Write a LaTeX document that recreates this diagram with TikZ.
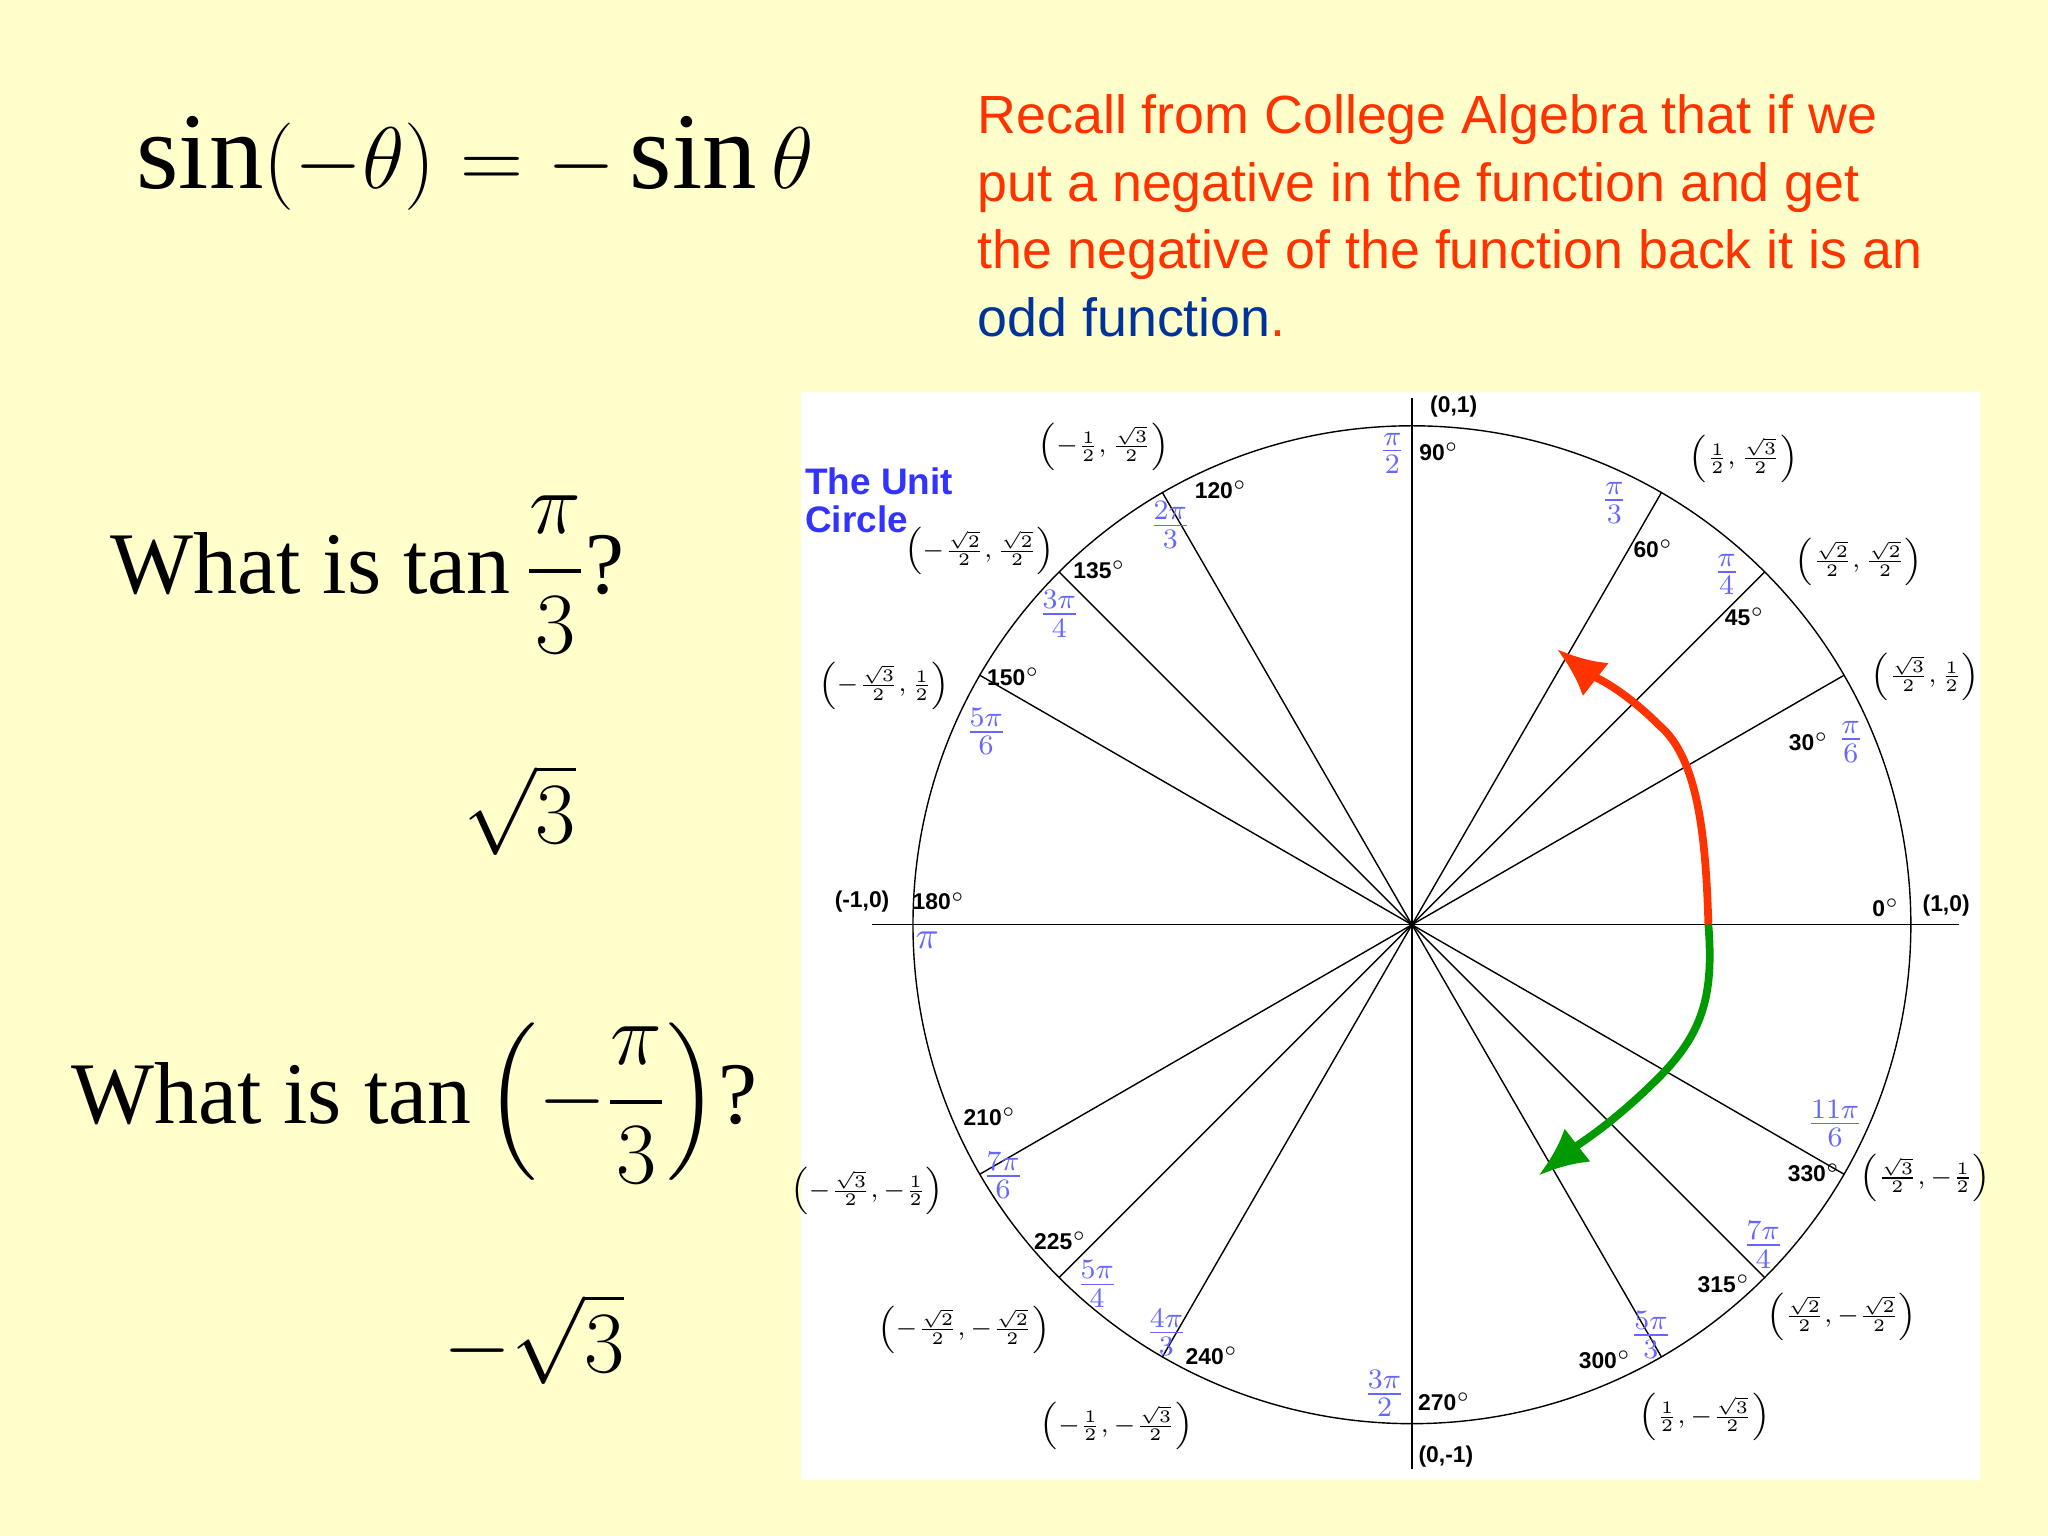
\documentclass[tikz,border=0pt]{standalone}
\usepackage{amsmath}
\usepackage{fontspec}
\setmainfont{Liberation Serif}
\newfontfamily\arialfont{Liberation Sans}
\usetikzlibrary{arrows.meta}
\definecolor{bgyellow}{RGB}{255,255,204}
\definecolor{recallred}{RGB}{255,51,0}
\definecolor{oddblue}{RGB}{0,51,153}
\definecolor{radblue}{RGB}{102,102,255}
\definecolor{titleblue}{RGB}{51,51,255}
\definecolor{arrowgreen}{RGB}{0,153,0}

\begin{document}
\begin{tikzpicture}[x=0.01306cm,y=-0.01306cm,
    deg/.style={font=\arialfont\bfseries\fontsize{6.5}{8}\selectfont,inner sep=1pt},
    rad/.style={text=radblue,font=\fontsize{11}{12}\selectfont,inner sep=0pt},
    pt/.style={font=\fontsize{7.5}{9}\selectfont,inner sep=0pt},
    big/.style={font=\fontsize{25}{30}\selectfont,anchor=west}]
      \fill[bgyellow] (0,0) rectangle (1568,1176);
      \useasboundingbox (0,0) rectangle (1568,1176);

      % left side
      \node[big,font=\fontsize{31}{36}\selectfont] (sineq) at (95,125) {$\sin(-\theta)=-\sin\theta$};
      \node[big] (q1) at (75,440) {What is $\tan\dfrac{\pi}{3}$?};
      \node[big] (a1) at (345,620) {$\sqrt{3}$};
      \node[big] (q2) at (45,845) {What is $\tan\left(-\dfrac{\pi}{3}\right)$?};
      \node[big] (a2) at (330,1025) {$-\sqrt{3}$};

      \node[anchor=north west,align=left,text=recallred,inner sep=0pt,
        font=\arialfont\fontsize{15.3}{19.2}\selectfont] (recall) at (748,72)
        {Recall from College Algebra that if we\\
         put a negative in the function and get\\
         the negative of the function back it is an\\
         \textcolor{oddblue}{odd function}.};

      % unit circle
      \fill[white] (613,300) rectangle (1516,1133);
      \coordinate (O) at (1081,708);
      \draw[thin] (O) circle (382);
      \draw[thin] (668,708) -- (1500,708);
      \draw[thin] (1081,305) -- (1081,1125);
      \foreach \a in {30,45,60,120,135,150,210,225,240,300,315,330}
        \draw[thin] (O) -- ++(\a:382 and -382);

      \node[anchor=west,align=left,text=titleblue,inner sep=0pt,
        font=\arialfont\bfseries\fontsize{10.5}{10.8}\selectfont] (title) at (616,383)
        {The Unit\\Circle};

      % degrees
      \node[deg] (d90) at (1102,346) {90$^\circ$};
      \node[deg] (d60) at (1266,420) {60$^\circ$};
      \node[deg] (d45) at (1336,472) {45$^\circ$};
      \node[deg] (d30) at (1385,568) {30$^\circ$};
      \node[deg] (d0) at (1444,695) {0$^\circ$};
      \node[deg] (d330) at (1389,898) {330$^\circ$};
      \node[deg] (d315) at (1320,983) {315$^\circ$};
      \node[deg] (d300) at (1229,1041) {300$^\circ$};
      \node[deg] (d270) at (1106,1073) {270$^\circ$};
      \node[deg] (d240) at (928,1038) {240$^\circ$};
      \node[deg] (d225) at (812,950) {225$^\circ$};
      \node[deg] (d210) at (758,855) {210$^\circ$};
      \node[deg] (d180) at (719,690) {180$^\circ$};
      \node[deg] (d150) at (776,518) {150$^\circ$};
      \node[deg] (d135) at (842,436) {135$^\circ$};
      \node[deg] (d120) at (935,375) {120$^\circ$};

      % radians
      \node[rad] (r90) at (1066,347) {$\frac{\pi}{2}$};
      \node[rad] (r60) at (1236,385) {$\frac{\pi}{3}$};
      \node[rad] (r45) at (1322,440) {$\frac{\pi}{4}$};
      \node[rad] (r30) at (1417,568) {$\frac{\pi}{6}$};
      \node[rad] (r330) at (1405,860) {$\frac{11\pi}{6}$};
      \node[rad] (r315) at (1350,953) {$\frac{7\pi}{4}$};
      \node[rad] (r300) at (1264,1022) {$\frac{5\pi}{3}$};
      \node[rad] (r270) at (1060,1067) {$\frac{3\pi}{2}$};
      \node[rad] (r240) at (893,1020) {$\frac{4\pi}{3}$};
      \node[rad] (r225) at (840,983) {$\frac{5\pi}{4}$};
      \node[rad] (r210) at (768,900) {$\frac{7\pi}{6}$};
      \node[rad] (r180) at (710,720) {$\pi$};
      \node[rad] (r150) at (755,560) {$\frac{5\pi}{6}$};
      \node[rad] (r135) at (811,470) {$\frac{3\pi}{4}$};
      \node[rad] (r120) at (896,402) {$\frac{2\pi}{3}$};

      % coordinates
      \node[deg] (p90) at (1113,311) {(0,1)};
      \node[pt] (p60) at (1335,351) {$\left(\frac{1}{2},\frac{\sqrt{3}}{2}\right)$};
      \node[pt] (p45) at (1423,430) {$\left(\frac{\sqrt{2}}{2},\frac{\sqrt{2}}{2}\right)$};
      \node[pt] (p30) at (1474,518) {$\left(\frac{\sqrt{3}}{2},\frac{1}{2}\right)$};
      \node[deg] (p0) at (1490,693) {(1,0)};
      \node[pt] (p330) at (1474,902) {$\left(\frac{\sqrt{3}}{2},-\frac{1}{2}\right)$};
      \node[pt] (p315) at (1410,1008) {$\left(\frac{\sqrt{2}}{2},-\frac{\sqrt{2}}{2}\right)$};
      \node[pt] (p300) at (1305,1085) {$\left(\frac{1}{2},-\frac{\sqrt{3}}{2}\right)$};
      \node[deg] (p270) at (1107,1115) {(0,-1)};
      \node[pt] (p240) at (855,1092) {$\left(-\frac{1}{2},-\frac{\sqrt{3}}{2}\right)$};
      \node[pt] (p225) at (738,1018) {$\left(-\frac{\sqrt{2}}{2},-\frac{\sqrt{2}}{2}\right)$};
      \node[pt] (p210) at (664,912) {$\left(-\frac{\sqrt{3}}{2},-\frac{1}{2}\right)$};
      \node[deg] (p180) at (660,690) {(-1,0)};
      \node[pt] (p150) at (677,525) {$\left(-\frac{\sqrt{3}}{2},\frac{1}{2}\right)$};
      \node[pt] (p135) at (750,422) {$\left(-\frac{\sqrt{2}}{2},\frac{\sqrt{2}}{2}\right)$};
      \node[pt] (p120) at (845,342) {$\left(-\frac{1}{2},\frac{\sqrt{3}}{2}\right)$};

      % arrows
      \coordinate (start) at (1308,708);
      \coordinate (up) at (1192,497);
      \coordinate (down) at (1178,900);
      \draw[recallred,line width=2.2pt,-{Latex[length=14pt,width=12pt]}]
        (start) .. controls (1306,640) and (1300,580) .. (1270,555)
        .. controls (1240,525) and (1215,515) .. (up);
      \draw[arrowgreen,line width=2.2pt,-{Latex[length=14pt,width=12pt]}]
        (start) .. controls (1312,760) and (1305,790) .. (1270,825)
        .. controls (1235,860) and (1210,875) .. (down);
    \end{tikzpicture}
\end{document}
